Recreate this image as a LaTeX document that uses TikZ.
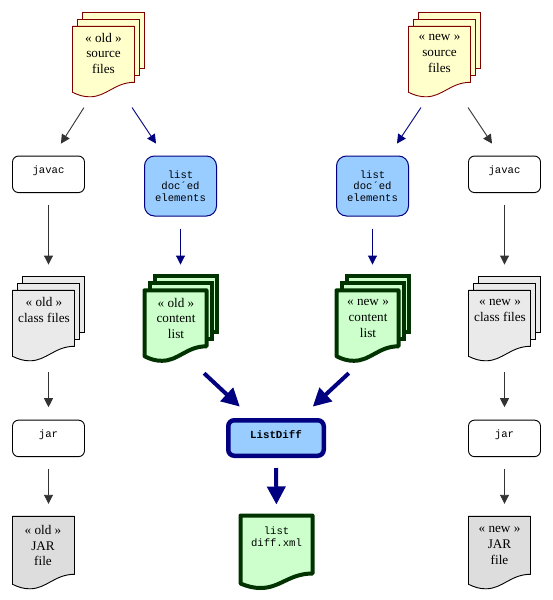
\documentclass[tikz,border=0pt]{standalone}
\usepackage{fontspec}
\setmainfont{Liberation Serif}
\newfontfamily\monof{Liberation Mono}
\usetikzlibrary{arrows.meta,calc}
\definecolor{navyc}{HTML}{000080}
\definecolor{grayc}{HTML}{333333}
\definecolor{bluef}{HTML}{99CCFF}
\definecolor{yellowf}{HTML}{FFFFCC}
\definecolor{redl}{HTML}{800000}
\definecolor{greenf}{HTML}{CCFFCC}
\definecolor{greenl}{HTML}{003300}
\definecolor{classf}{HTML}{EAEAEA}
\definecolor{jarf}{HTML}{DDDDDD}
\tikzset{
  srcsheet/.style={draw=redl,fill=yellowf,line width=.9pt},
  classsheet/.style={draw=black,fill=classf,line width=.9pt},
  jarsheet/.style={draw=black,fill=jarf,line width=.9pt},
  contentsheet/.style={draw=greenl,fill=greenf,line width=4pt},
  bound/.style={inner sep=0pt,outer sep=0pt},
  serifl/.style={inner sep=0pt,align=center,font=\fontsize{13.2}{15.8}\selectfont,execute at begin node=\strut,execute at end node=\strut},
  monol/.style={inner sep=0pt,align=center,font=\monof\fontsize{10.6}{11.6}\selectfont},
  whitebox/.style={draw=black,fill=white,line width=.9pt,rounded corners=6pt,minimum width=72pt,minimum height=36.5pt,inner sep=0pt,font=\monof\fontsize{10.6}{11.6}\selectfont},
  listbox/.style={draw=navyc,fill=bluef,line width=1pt,rounded corners=10pt,minimum width=72pt,minimum height=60pt,inner sep=0pt,align=center,font=\monof\fontsize{10.6}{11.6}\selectfont},
  diffbox/.style={draw=navyc,fill=bluef,line width=4.5pt,rounded corners=6pt,minimum width=95.5pt,minimum height=35.5pt,inner sep=0pt,font=\monof\bfseries\fontsize{10.8}{11.6}\selectfont},
  gconn/.style={draw=grayc,line width=.9pt,-{Triangle[length=9pt,width=9pt]}},
  bconn/.style={draw=navyc,line width=.9pt,-{Triangle[length=9pt,width=9pt]}},
  tconn/.style={draw=navyc,line width=4pt,-{Triangle[length=18pt,width=18pt]}},
}
% sheet: x, y, w, h, style
\newcommand{\sheetshape}[5]{%
  \path[#5,line join=round] (#1,#2) -- (#1+#3,#2) -- (#1+#3,#2+#4)
    .. controls (#1+#3-#3*0.32,#2+#4) and (#1+#3-#3*0.45,#2+#4+14.5) .. (#1+#3-#3*0.72,#2+#4+14.5)
    .. controls (#1+#3-#3*0.82,#2+#4+14.5) and (#1+#3-#3*0.9,#2+#4+13) .. (#1,#2+#4+10) -- cycle;}
% stack: name, x, y, h, style
\newcommand{\docstack}[5]{%
  \path[#5] (#2+10,#3-14) rectangle (#2+72,#3+#4-14);
  \path[#5] (#2+5,#3-7) rectangle (#2+67,#3+#4-7);
  \sheetshape{#2}{#3}{62}{#4}{#5}
  \node[bound,minimum width=72pt,minimum height=#4pt+28.5pt] (#1) at (#2+36,#3+#4/2) {};}
% single: name, x, y, w, h, style
\newcommand{\docsingle}[6]{%
  \sheetshape{#2}{#3}{#4}{#5}{#6}
  \node[bound,minimum width=#4pt,minimum height=#5pt+14.5pt] (#1) at (#2+#4/2,#3+#5/2+7.25) {};}
\begin{document}
\begin{tikzpicture}[x=1pt,y=-1pt]
\useasboundingbox[fill=white] (0,0) rectangle (552,600);

% source files
\docstack{srcold}{72.5}{26.3}{56}{srcsheet}
\node[serifl] (srcoldt) at (103.5,55.6) {« old »\\source\\files};
\docstack{srcnew}{408.5}{26.3}{56}{srcsheet}
\node[serifl] (srcnewt) at (439.5,55.6) {« new »\\source\\files};

% compile boxes
\node[whitebox] (javacold) at (48.5,174.3) {\raisebox{1.3pt}[0pt][0pt]{javac}};
\node[whitebox] (javacnew) at (504.5,174.3) {\raisebox{1.3pt}[0pt][0pt]{javac}};
\node[listbox] (listold) at (180.5,186) {list\\doc´ed\\elements};
\node[listbox] (listnew) at (372.5,186) {list\\doc´ed\\elements};

% class files
\docstack{classold}{12.5}{290.3}{56}{classsheet}
\node[serifl] (classoldt) at (44,312.5) {« old »\\class files};
\docstack{classnew}{468.5}{290.3}{56}{classsheet}
\node[serifl] (classnewt) at (500,312.5) {« new »\\class files};

% content lists
\docstack{contold}{144.5}{290.3}{56}{contentsheet}
\node[serifl] (contoldt) at (176,320.6) {« old »\\content\\list};
\docstack{contnew}{336.5}{290.3}{56}{contentsheet}
\node[serifl] (contnewt) at (368,320.6) {« new »\\content\\list};

% jar boxes
\node[whitebox] (jarold) at (48.5,438.4) {\raisebox{.7pt}[0pt][0pt]{jar}};
\node[whitebox] (jarnew) at (504.5,438.4) {\raisebox{.7pt}[0pt][0pt]{jar}};
\node[diffbox] (listdiff) at (276,438) {\raisebox{0pt}[0pt][0pt]{ListDiff}};

% JAR files
\docsingle{jarfold}{12.5}{516.3}{62}{58}{jarsheet}
\node[serifl] (jarfoldt) at (43,547.8) {« old »\\JAR\\file};
\docsingle{jarfnew}{468.5}{516.3}{62}{58}{jarsheet}
\node[serifl] (jarfnewt) at (499.5,547.8) {« new »\\JAR\\file};

% diff file
\docsingle{difffile}{240.5}{515.5}{72}{58}{contentsheet}
\node[monol] (difffilet) at (276.5,537) {list\\diff.xml};

% connectors
\draw[gconn,shorten <=13.2pt,shorten >=14.2pt] ($(srcold.south west)+(18.5,0)$) -- ($(javacold.north)+(4.8,0)$);
\draw[bconn,shorten <=13.2pt,shorten >=14.4pt] ($(srcold.south west)+(52.2,0)$) -- ($(listold.north)+(-16.5,0)$);
\draw[bconn,shorten <=13.2pt,shorten >=14.4pt] ($(srcnew.south west)+(19.8,0)$) -- ($(listnew.north)+(16.5,0)$);
\draw[gconn,shorten <=13.2pt,shorten >=14.4pt] ($(srcnew.south west)+(52.2,0)$) -- ($(javacnew.north)+(-4.5,0)$);

\draw[gconn,shorten <=11.5pt,shorten >=11.5pt] (javacold.south) -- (javacold.south |- classold.north);
\draw[gconn,shorten <=11.5pt,shorten >=11.5pt] (javacnew.south) -- (javacnew.south |- classnew.north);
\draw[bconn,shorten <=12pt,shorten >=11.5pt] (listold.south) -- (listold.south |- contold.north);
\draw[bconn,shorten <=12pt,shorten >=11.5pt] (listnew.south) -- (listnew.south |- contnew.north);

\draw[gconn,shorten <=11.5pt,shorten >=12.5pt] (jarold.north |- classold.south) -- (jarold.north);
\draw[gconn,shorten <=11.5pt,shorten >=12.5pt] (jarnew.north |- classnew.south) -- (jarnew.north);
\draw[gconn,shorten <=11.5pt,shorten >=12.5pt] (jarold.south) -- (jarold.south |- jarfold.north);
\draw[gconn,shorten <=11.5pt,shorten >=12.5pt] (jarnew.south) -- (jarnew.south |- jarfnew.north);

\draw[tconn,shorten <=18.6pt,shorten >=16.7pt] ($(contold.south west)+(46,0)$) -- ($(listdiff.north)+(-24,0)$);
\draw[tconn,shorten <=18.6pt,shorten >=16.7pt] ($(contnew.south west)+(25.9,0)$) -- ($(listdiff.north)+(24.5,0)$);
\draw[tconn,shorten <=10pt,shorten >=11pt] (listdiff.south) -- (difffile.north);
\end{tikzpicture}
\end{document}
